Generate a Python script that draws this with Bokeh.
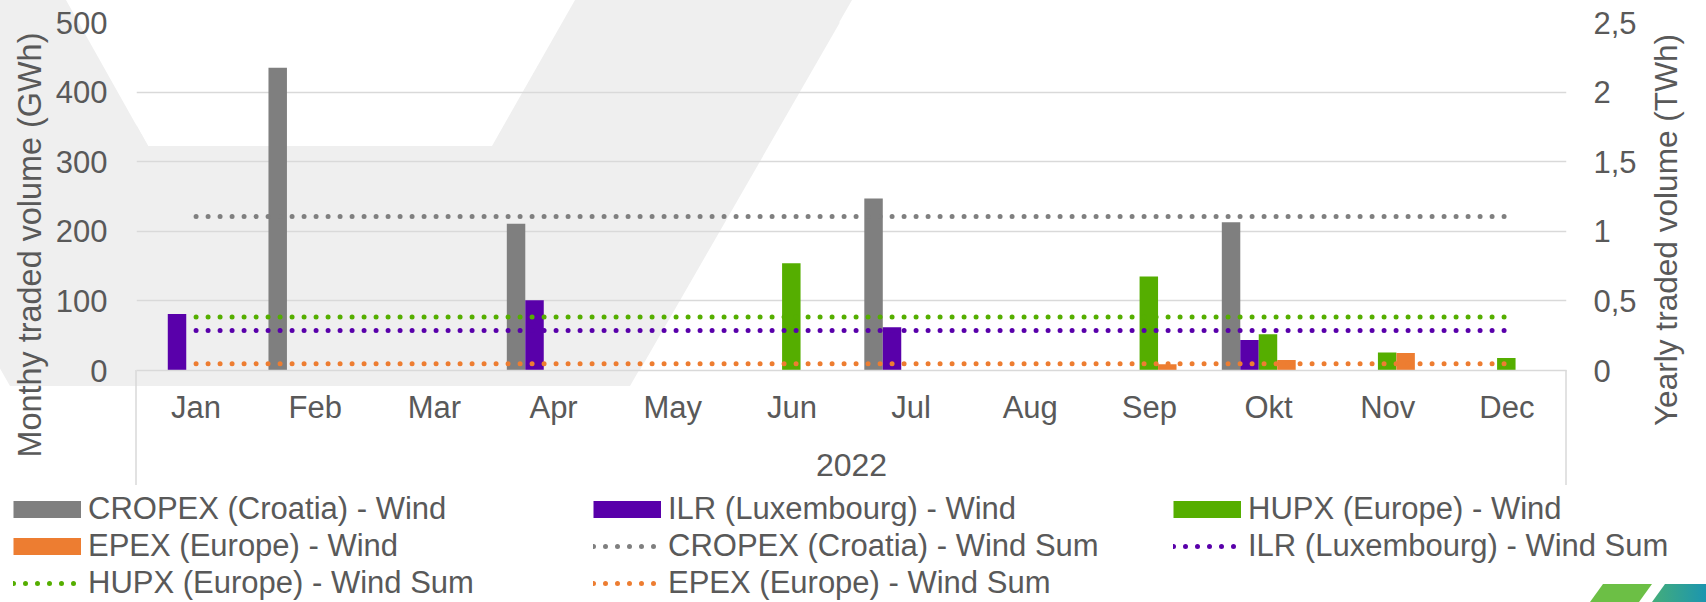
import math
from bokeh.plotting import figure
from bokeh.models import (FactorRange, Range1d, LinearAxis, FixedTicker, Legend, LegendItem,
                          PolyAnnotation, Label, ColumnDataSource)
from bokeh.transform import dodge
from bokeh.embed import file_html
from bokeh.resources import INLINE

# ---------------- data ----------------
months = ["Jan", "Feb", "Mar", "Apr", "May", "Jun", "Jul", "Aug", "Sep", "Okt", "Nov", "Dec"]
year_label = "2022"
cropex = [0, 435, 0, 211, 0, 0, 247, 0, 0, 213, 0, 0]
ilr = [81, 0, 0, 101, 0, 0, 62, 0, 0, 44, 0, 0]
hupx = [0, 0, 0, 0, 0, 154, 0, 0, 135, 52, 26, 18]
epex = [0, 0, 0, 0, 0, 0, 0, 0, 9, 15, 25, 0]
series_names = ["CROPEX (Croatia) - Wind", "ILR (Luxembourg) - Wind",
                "HUPX (Europe) - Wind", "EPEX (Europe) - Wind"]
sum_names = ["CROPEX (Croatia) - Wind Sum", "ILR (Luxembourg) - Wind Sum",
             "HUPX (Europe) - Wind Sum", "EPEX (Europe) - Wind Sum"]
left_ticks = [0, 100, 200, 300, 400, 500]
right_ticks = [0, 0.5, 1, 1.5, 2, 2.5]
right_tick_labels = ["0", "0,5", "1", "1,5", "2", "2,5"]
left_title = "Monthy traded volume (GWh)"
right_title = "Yearly traded volume (TWh)"

colors = ["#7f7f7f", "#5900aa", "#55ae00", "#ed7d31"]
TXT = "#595959"
FONT = "Liberation Sans"

# page decoration (background shape, category box dividers, logo) as a CSS background
deco_svg = (
    "<svg xmlns='http://www.w3.org/2000/svg' width='1706' height='602'>"
    "<defs><linearGradient id='g' x1='0' x2='1' y1='0' y2='0'>"
    "<stop offset='0' stop-color='%2344ad7a'/><stop offset='1' stop-color='%23118fbd'/>"
    "</linearGradient></defs>"
    "<polygon points='-212,0 66,0 148,146 492,146 575,0 852,0 630,386 10,386' fill='%23efefef'/>"
    "<rect x='135.25' y='370' width='1.5' height='115' fill='%23d9d9d9'/>"
    "<rect x='1565.25' y='370' width='1.5' height='115' fill='%23d9d9d9'/>"
    "<polygon points='1603,584 1652,584 1639,602 1590,602' fill='%236cbf45'/>"
    "<polygon points='1665,584 1720,584 1720,602 1652,602' fill='url(%23g)'/>"
    "</svg>"
)
deco_url = 'url("data:image/svg+xml;utf8,' + deco_svg + '")'

data = dict(month=months, cropex=cropex, ilr=ilr, hupx=hupx, epex=epex)
keys = ["cropex", "ilr", "hupx", "epex"]
for k in keys:
    data[k + "_sum"] = [sum(data[k]) / 1000.0] * len(months)
src = ColumnDataSource(data)

MAIN_H = 490
p = figure(x_range=FactorRange(factors=months), y_range=Range1d(0, 500),
           width=1706, height=MAIN_H, output_backend="svg", toolbar_location=None,
           min_border_left=136, min_border_right=140, min_border_top=22,
           min_border_bottom=MAIN_H - 370,
           background_fill_color=None, border_fill_color=None, outline_line_color=None,
           styles={"background-color": "white", "background-image": deco_url,
                   "background-repeat": "no-repeat", "background-size": "1706px 602px",
                   "background-position": "0px 0px"})
p.extra_y_ranges = {"yr": Range1d(0, 2.5)}

# in-frame copy of background shape
p.add_layout(PolyAnnotation(xs=[-212, 66, 148, 492, 575, 852, 630, 10],
                            ys=[0, 0, 146, 146, 0, 0, 386, 386],
                            xs_units="canvas", ys_units="canvas",
                            fill_color="#efefef", fill_alpha=1, line_color=None, level="image"))

# bars
slot = 0.155
offsets = [(i - 2) * slot - 0.005 for i in range(4)]
for k, c, off in zip(keys, colors, offsets):
    p.vbar(x=dodge("month", off, range=p.x_range), top=k, width=slot, source=src,
           fill_color=c, line_color=None)

# sum lines
for k, c in zip(keys, colors):
    p.line(x="month", y=k + "_sum", source=src, y_range_name="yr", line_color=c,
           line_width=5, line_dash="0 12", line_cap="round")

# axes
xa = p.xaxis[0]
xa.axis_line_color = "#d9d9d9"
xa.axis_line_width = 1.5
xa.major_tick_line_color = None
xa.minor_tick_line_color = None
xa.major_tick_out = 0
xa.major_tick_in = 0
xa.major_label_standoff = 19
xa.major_label_text_font = FONT
xa.major_label_text_font_size = "31px"
xa.major_label_text_color = TXT
xa.axis_label = year_label
xa.axis_label_text_font = FONT
xa.axis_label_text_font_style = "normal"
xa.axis_label_text_font_size = "32px"
xa.axis_label_text_color = TXT
xa.axis_label_standoff = 26

ya = p.yaxis[0]
ya.ticker = FixedTicker(ticks=left_ticks)
ya.axis_line_color = None
ya.major_tick_line_color = None
ya.minor_tick_line_color = None
ya.major_tick_out = 0
ya.major_tick_in = 0
ya.major_label_standoff = 29
ya.major_label_text_font = FONT
ya.major_label_text_font_size = "31px"
ya.major_label_text_color = TXT

ra = LinearAxis(y_range_name="yr", ticker=FixedTicker(ticks=right_ticks),
                major_label_overrides=dict(zip(right_ticks, right_tick_labels)))
ra.axis_line_color = None
ra.major_tick_line_color = None
ra.minor_tick_line_color = None
ra.major_tick_out = 0
ra.major_tick_in = 0
ra.major_label_standoff = 27
ra.major_label_text_font = FONT
ra.major_label_text_font_size = "31px"
ra.major_label_text_color = TXT
p.add_layout(ra, "right")

p.ygrid.ticker = FixedTicker(ticks=left_ticks)
p.ygrid.grid_line_color = "#d9d9d9"
p.ygrid.grid_line_width = 1.5
p.xgrid.grid_line_color = None

# axis titles (in side panels so they are not clipped by the frame)
p.add_layout(Label(x=29, y=244.5, x_units="canvas", y_units="canvas", text=left_title,
                   angle=math.pi / 2, text_align="center", text_baseline="middle",
                   text_font=FONT, text_font_size="32.4px", text_color=TXT), "left")
p.add_layout(Label(x=1665, y=229.5, x_units="canvas", y_units="canvas", text=right_title,
                   angle=math.pi / 2, text_align="center", text_baseline="middle",
                   text_font=FONT, text_font_size="31.6px", text_color=TXT), "right")

# ---------------- legend strip (separate root, full-width frame) ----------------
LEG_H = 602 - MAIN_H
lg = figure(width=1706, height=LEG_H, x_range=Range1d(0, 1), y_range=Range1d(0, 1),
            x_axis_type=None, y_axis_type=None, output_backend="svg", toolbar_location=None,
            min_border=0, min_border_left=0, min_border_right=0, min_border_top=0,
            min_border_bottom=0, background_fill_color=None, border_fill_color=None,
            outline_line_color=None,
            styles={"background-color": "white", "background-image": deco_url,
                    "background-repeat": "no-repeat", "background-size": "1706px 602px",
                    "background-position": "0px -%dpx" % MAIN_H})
lg.xgrid.visible = False
lg.ygrid.visible = False
bar_sw = [lg.line(x=[0.5], y=[-5], line_color=c, line_width=17, line_cap="butt")
          for c in colors]
sum_sw = [lg.line(x=[0.5], y=[-5], line_color=c, line_width=5, line_dash="0 12",
                  line_cap="round") for c in colors]
items = [LegendItem(label=series_names[i], renderers=[bar_sw[i]]) for i in range(4)]
items += [LegendItem(label=sum_names[i], renderers=[sum_sw[i]]) for i in range(4)]
legend = Legend(items=items, orientation="horizontal", ncols=3, location=(13, 1),
                glyph_width=68, glyph_height=20, label_standoff=7, label_width=504,
                label_height=36, spacing=1, padding=0, margin=0,
                border_line_color=None, background_fill_alpha=0,
                label_text_font=FONT, label_text_font_size="31px", label_text_color=TXT)
lg.add_layout(legend, "center")

open("out.html", "w").write(file_html([p, lg], INLINE))
